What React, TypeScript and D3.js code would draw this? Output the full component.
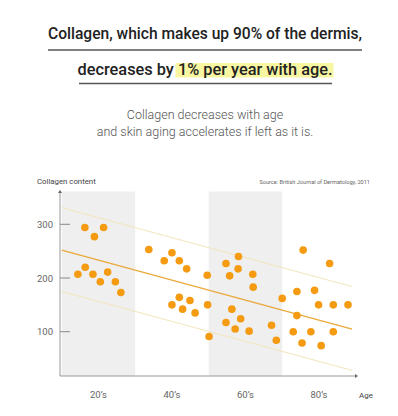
import React from "react";
import * as d3 from "d3";

const decadeLabels = ["20’s", "40’s", "60’s", "80’s"];
const decadeCenters = [20, 40, 60, 80];
const bandEdges = [10, 30, 50, 70, 90];
const yTicks = [100, 200, 300];

const pointAges = [
  16.3, 18.9, 21.4, 14.4, 16.4, 18.5, 20.5, 22.5, 24.6, 26.1,
  33.7, 37.9, 40.0, 42.0, 44.0, 49.6, 40.0, 42.0, 42.9, 44.9, 46.3, 49.7, 50.1,
  54.7, 58.1, 58.0, 55.7, 62.0, 62.1, 56.3, 58.7, 54.7, 57.2, 61.0, 67.1, 68.4,
  75.7, 82.9, 70.0, 74.0, 78.8, 79.9, 83.9, 87.9, 74.0, 73.0, 77.8, 83.9, 75.4, 80.6,
];
const pointValues = [
  294, 277, 294, 207, 220, 207, 193, 211, 193, 173,
  253, 232, 247, 232, 217, 205, 150, 164, 142, 158, 135, 150, 91,
  227, 240, 217, 204, 207, 183, 142, 124, 117, 105, 101, 112, 84,
  252, 227, 162, 175, 177, 150, 150, 150, 130, 100, 100, 100, 79, 74,
];

const trendAges = [10, 89];
const trendMid = [252, 105];
const trendUpper = [331, 184];
const trendLower = [175, 28];

export default function App() {
  const x = d3.scaleLinear().domain([10, 90]).range([61.7, 355.7]);
  const y = d3.scaleLinear().domain([100, 300]).range([331.7, 224.3]);
  const axisX = 60;
  const axisBottom = 376;
  const axisTop = 190;
  const bandTop = 191.5;

  const line = d3
    .line<[number, number]>()
    .x((d) => x(d[0]))
    .y((d) => y(d[1]));
  const mk = (vals: number[]) =>
    line(trendAges.map((a, i) => [a, vals[i]] as [number, number])) || "";

  const titleFont = "Roboto, 'Noto Sans', sans-serif";

  return (
    <svg
      width={398}
      height={416}
      style={{ position: "absolute", left: 0, top: 0, background: "#fff" }}
    >
      <rect width={398} height={416} fill="#fff" />
      {/* Title */}
      <text
        x={205}
        y={39}
        textAnchor="middle"
        fontFamily={titleFont}
        fontWeight={500}
        fontSize={17}
        fill="#222"
        textLength={314}
        lengthAdjust="spacingAndGlyphs"
      >
        Collagen, which makes up 90% of the dermis,
      </text>
      <line x1={48} x2={362} y1={50} y2={50} stroke="#555" strokeWidth={1.3} />
      <rect x={175.5} y={63} width={158} height={14.5} fill="#f9f6a2" />
      <text
        x={77.5}
        y={75}
        fontFamily={titleFont}
        fontWeight={500}
        fontSize={17}
        fill="#222"
        textLength={255}
        lengthAdjust="spacingAndGlyphs"
      >
        decreases by 1% per year with age.
      </text>
      <line x1={79} x2={332} y1={83.5} y2={83.5} stroke="#555" strokeWidth={1.3} />

      {/* Subtitle */}
      <text
        x={205}
        y={119}
        textAnchor="middle"
        fontFamily={titleFont}
        fontWeight={300}
        fontSize={12.5}
        fill="#555"
      >
        Collagen decreases with age
      </text>
      <text
        x={205}
        y={136}
        textAnchor="middle"
        fontFamily={titleFont}
        fontWeight={300}
        fontSize={12.5}
        fill="#555"
      >
        and skin aging accelerates if left as it is.
      </text>

      {/* Bands */}
      {[0, 2].map((i) => (
        <rect
          key={i}
          x={x(bandEdges[i])}
          y={bandTop}
          width={x(bandEdges[i + 1]) - x(bandEdges[i])}
          height={axisBottom - bandTop}
          fill="#efefef"
        />
      ))}

      {/* Axis labels */}
      <text x={37} y={184} fontFamily={titleFont} fontSize={7.8} fill="#444">
        Collagen content
      </text>
      <text
        x={370}
        y={184}
        textAnchor="end"
        fontFamily={titleFont}
        fontSize={5.6}
        fill="#666"
      >
        Source: British Journal of Dermatology, 2011
      </text>

      {/* Trend lines */}
      <path d={mk(trendUpper)} fill="none" stroke="#f3e5bb" strokeWidth={1} />
      <path d={mk(trendLower)} fill="none" stroke="#f3e5bb" strokeWidth={1} />
      <path d={mk(trendMid)} fill="none" stroke="#eaa93a" strokeWidth={1.3} />

      {/* Points */}
      {pointAges.map((a, i) => (
        <circle key={i} cx={x(a)} cy={y(pointValues[i])} r={3.8} fill="#f49b12" />
      ))}

      {/* Y axis */}
      <line x1={axisX} x2={axisX} y1={axisTop + 2} y2={axisBottom} stroke="#999" strokeWidth={1} />
      <path d={`M${axisX - 2},${axisTop + 3} L${axisX},${axisTop} L${axisX + 2},${axisTop + 3} Z`} fill="#666" />
      {yTicks.map((t) => (
        <g key={t}>
          <line x1={axisX} x2={axisX + 10} y1={y(t)} y2={y(t)} stroke="#888" strokeWidth={1} />
          <text
            x={45}
            y={y(t) + 3.5}
            textAnchor="middle"
            fontFamily={titleFont}
            fontSize={9.5}
            fill="#666"
          >
            {t}
          </text>
        </g>
      ))}

      {/* X axis */}
      <line x1={axisX} x2={355} y1={axisBottom} y2={axisBottom} stroke="#999" strokeWidth={1} />
      <path d={`M355,${axisBottom - 2} L358,${axisBottom} L355,${axisBottom + 2} Z`} fill="#666" />
      {decadeLabels.map((l, i) => (
        <text
          key={l}
          x={x(decadeCenters[i])}
          y={397.5}
          textAnchor="middle"
          fontFamily={titleFont}
          fontSize={9.5}
          fill="#666"
        >
          {l}
        </text>
      ))}
      <text x={359} y={397.5} fontFamily={titleFont} fontSize={8} fill="#444">
        Age
      </text>
    </svg>
  );
}
